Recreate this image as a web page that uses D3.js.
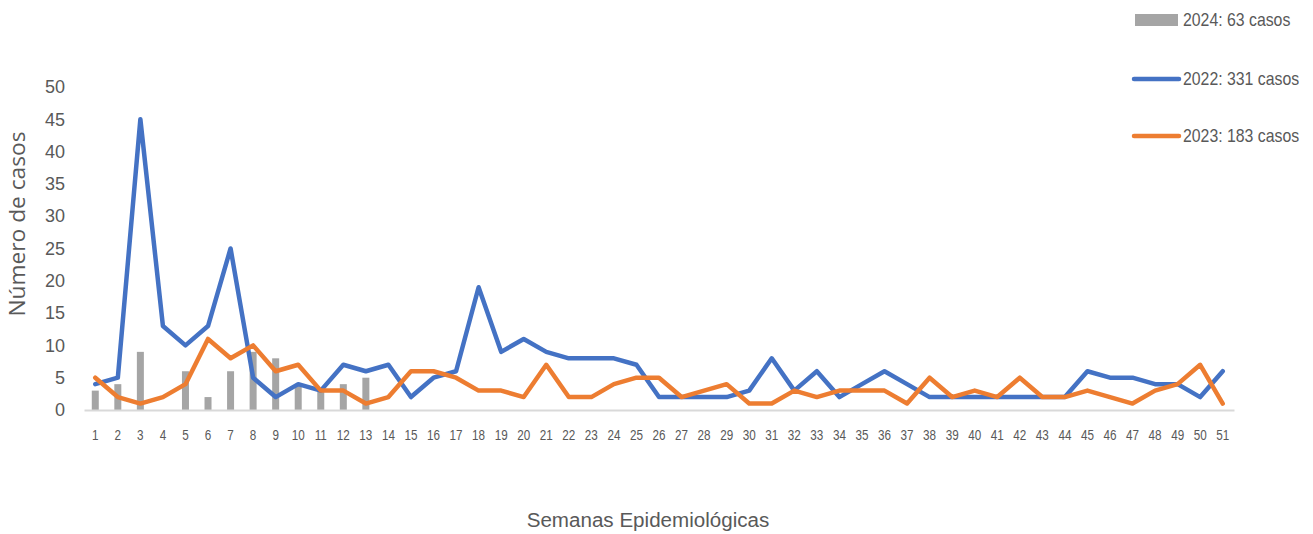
<!DOCTYPE html>
<html>
<head>
<meta charset="utf-8">
<script src="https://cdn.jsdelivr.net/npm/d3@7"></script>
<style>
  html, body { margin: 0; padding: 0; background: #fff; }
  svg { display: block; }
</style>
</head>
<body>
<svg id="chart" width="1313" height="534"></svg>
<script>
const weeks = d3.range(1, 52).map(String);
const cases2024 = [3, 4, 9, 0, 6, 2, 6, 9, 8, 4, 3, 4, 5];
const cases2022 = [4, 5, 45, 13, 10, 13, 25, 5, 2, 4, 3, 7, 6, 7, 2, 5, 6, 19, 9, 11, 9, 8, 8, 8, 7, 2, 2, 2, 2, 3, 8, 3, 6, 2, 4, 6, 4, 2, 2, 2, 2, 2, 2, 2, 6, 5, 5, 4, 4, 2, 6];
const cases2023 = [5, 2, 1, 2, 4, 11, 8, 10, 6, 7, 3, 3, 1, 2, 6, 6, 5, 3, 3, 2, 7, 2, 2, 4, 5, 5, 2, 3, 4, 1, 1, 3, 2, 3, 3, 3, 1, 5, 2, 3, 2, 5, 2, 2, 3, 2, 1, 3, 4, 7, 1];
const yTicks = [0, 5, 10, 15, 20, 25, 30, 35, 40, 45, 50];
const legendLabels = ["2024: 63 casos", "2022: 331 casos", "2023: 183 casos"];
const yTitle = "Número de casos";
const xTitle = "Semanas Epidemiológicas";

const colors = { c2024: "#A5A5A5", c2022: "#4472C4", c2023: "#ED7D31" };
const sans = "'Liberation Sans', Arial, sans-serif";
const textColor = "#595959";

const svg = d3.select("#chart");
const x = d3.scaleBand().domain(weeks).range([84, 1234]).paddingInner(0).paddingOuter(0);
const y = d3.scaleLinear().domain([0, 50]).range([410, 87]);

// bars (2024)
svg.append("g").selectAll("rect")
  .data(cases2024)
  .join("rect")
  .attr("x", (d, i) => x(weeks[i]) + x.bandwidth() / 2 - 3.5)
  .attr("width", 7)
  .attr("y", d => y(d))
  .attr("height", d => y(0) - y(d))
  .attr("fill", colors.c2024);

// x axis
const xAxis = svg.append("g").attr("transform", "translate(0,410)")
  .call(d3.axisBottom(x).tickSize(0).tickPadding(19));
xAxis.select(".domain").attr("stroke", "#d9d9d9").attr("stroke-width", 2);
xAxis.selectAll("text")
  .attr("font-family", sans).attr("font-size", 15).attr("fill", textColor)
  .attr("transform", "scale(0.78,1)");

// y axis
const yAxis = svg.append("g").attr("transform", "translate(65,0)")
  .call(d3.axisLeft(y).tickValues(yTicks).tickSize(0).tickPadding(0));
yAxis.select(".domain").remove();
yAxis.selectAll("text").attr("font-family", sans).attr("font-size", 18).attr("fill", textColor);

// lines
const line = data => d3.line()
  .x((d, i) => x(weeks[i]) + x.bandwidth() / 2)
  .y(d => y(d))(data);

svg.append("path").attr("d", line(cases2022))
  .attr("fill", "none").attr("stroke", colors.c2022)
  .attr("stroke-width", 4.5).attr("stroke-linejoin", "round").attr("stroke-linecap", "round");
svg.append("path").attr("d", line(cases2023))
  .attr("fill", "none").attr("stroke", colors.c2023)
  .attr("stroke-width", 4.5).attr("stroke-linejoin", "round").attr("stroke-linecap", "round");

// axis titles
svg.append("text")
  .attr("transform", "translate(25,224) rotate(-90)")
  .attr("text-anchor", "middle")
  .attr("font-family", "'Open Sans', sans-serif")
  .attr("font-size", 22).attr("fill", textColor)
  .attr("textLength", 185).attr("lengthAdjust", "spacingAndGlyphs")
  .text(yTitle);
svg.append("text")
  .attr("transform", "translate(648,527) scale(1.03,1)")
  .attr("text-anchor", "middle")
  .attr("font-family", sans)
  .attr("font-size", 20).attr("fill", textColor)
  .text(xTitle);

// legend
const lg = svg.append("g");
lg.append("rect").attr("x", 1135).attr("y", 14).attr("width", 43).attr("height", 12).attr("fill", colors.c2024);
lg.append("line").attr("x1", 1134).attr("x2", 1179).attr("y1", 79).attr("y2", 79)
  .attr("stroke", colors.c2022).attr("stroke-width", 4.5).attr("stroke-linecap", "round");
lg.append("line").attr("x1", 1134).attr("x2", 1179).attr("y1", 136).attr("y2", 136)
  .attr("stroke", colors.c2023).attr("stroke-width", 4.5).attr("stroke-linecap", "round");
[20, 79, 136].forEach((cy, i) => {
  lg.append("text")
    .attr("transform", `translate(1183,${cy}) scale(0.88,1)`)
    .attr("dy", "0.35em")
    .attr("font-family", sans).attr("font-size", 18).attr("fill", textColor)
    .text(legendLabels[i]);
});
</script>
</body>
</html>
